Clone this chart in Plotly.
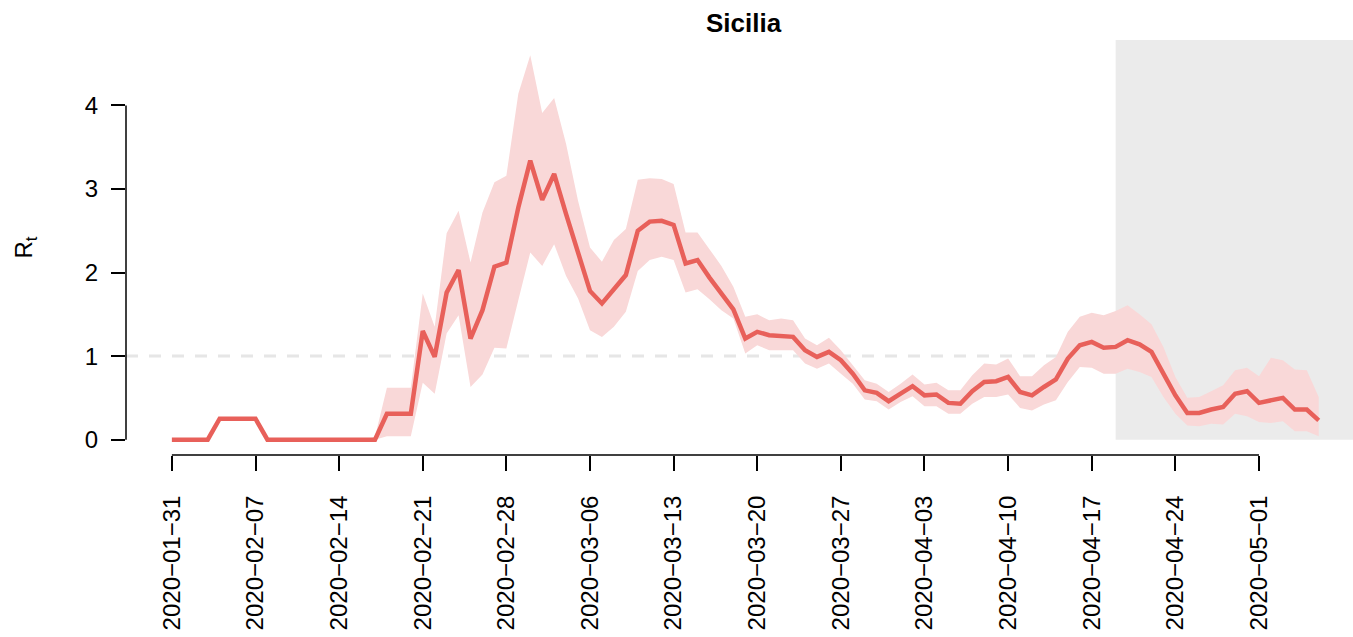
import datetime as dt
import plotly.graph_objects as go

# ---------------- data ----------------
start_date = dt.date(2020, 1, 31)
rt_mean = [0, 0, 0, 0, 0.25, 0.25, 0.25, 0.25, 0, 0, 0, 0, 0, 0, 0, 0, 0, 0, 0.31, 0.31, 0.31,
           1.30, 0.99, 1.76, 2.03, 1.21, 1.55, 2.07, 2.12, 2.78, 3.34, 2.87, 3.18, 2.70, 2.24, 1.78,
           1.63, 1.80, 1.97, 2.50, 2.61, 2.62, 2.57, 2.11, 2.15, 1.94, 1.76, 1.56, 1.21, 1.29, 1.25,
           1.24, 1.23, 1.07, 0.99, 1.05, 0.95, 0.79, 0.59, 0.56, 0.46, 0.55, 0.64, 0.53, 0.54, 0.44,
           0.43, 0.58, 0.69, 0.70, 0.75, 0.57, 0.53, 0.63, 0.72, 0.97, 1.13, 1.17, 1.10, 1.11, 1.19,
           1.14, 1.05, 0.79, 0.53, 0.32, 0.32, 0.36, 0.39, 0.55, 0.58, 0.44, 0.47, 0.50, 0.36, 0.36,
           0.23]
rt_upper = [0, 0, 0, 0, 0.25, 0.25, 0.25, 0.25, 0, 0, 0, 0, 0, 0, 0, 0, 0, 0.03, 0.62, 0.62, 0.62,
            1.75, 1.35, 2.47, 2.74, 2.12, 2.72, 3.08, 3.16, 4.14, 4.60, 3.91, 4.09, 3.54, 2.86, 2.30,
            2.13, 2.39, 2.52, 3.11, 3.13, 3.12, 3.06, 2.48, 2.48, 2.28, 2.08, 1.83, 1.47, 1.50, 1.43,
            1.45, 1.43, 1.21, 1.13, 1.22, 1.07, 0.89, 0.71, 0.67, 0.57, 0.67, 0.78, 0.66, 0.68, 0.59,
            0.59, 0.77, 0.91, 0.90, 0.97, 0.76, 0.76, 0.89, 0.99, 1.29, 1.47, 1.52, 1.49, 1.54, 1.61,
            1.50, 1.38, 1.11, 0.75, 0.50, 0.51, 0.58, 0.65, 0.83, 0.86, 0.76, 0.98, 0.95, 0.84, 0.83,
            0.51]
rt_lower = [0, 0, 0, 0, 0.25, 0.25, 0.25, 0.25, 0, 0, 0, 0, 0, 0, 0, 0, 0, 0, 0.04, 0.04, 0.04,
            0.68, 0.55, 1.27, 1.49, 0.63, 0.78, 1.10, 1.09, 1.67, 2.24, 2.08, 2.34, 1.96, 1.69, 1.31,
            1.23, 1.35, 1.53, 2.02, 2.15, 2.19, 2.15, 1.76, 1.80, 1.68, 1.55, 1.45, 1.03, 1.13, 1.07,
            1.07, 1.07, 0.91, 0.85, 0.91, 0.79, 0.67, 0.48, 0.46, 0.36, 0.45, 0.52, 0.40, 0.40, 0.31,
            0.31, 0.43, 0.51, 0.51, 0.54, 0.38, 0.35, 0.42, 0.47, 0.69, 0.87, 0.86, 0.79, 0.79, 0.85,
            0.81, 0.75, 0.51, 0.31, 0.17, 0.16, 0.19, 0.18, 0.31, 0.28, 0.21, 0.20, 0.22, 0.10, 0.10,
            0.04]
dates = [start_date + dt.timedelta(days=i) for i in range(len(rt_mean))]

tick_dates = ["2020-01-31", "2020-02-07", "2020-02-14", "2020-02-21", "2020-02-28", "2020-03-06",
              "2020-03-13", "2020-03-20", "2020-03-27", "2020-04-03", "2020-04-10", "2020-04-17",
              "2020-04-24", "2020-05-01"]
tick_labels = [d.replace("-", "\u2212") for d in tick_dates]
y_ticks = [0, 1, 2, 3, 4]
forecast_start = "2020-04-19"
title_text = "Sicilia"

# ---------------- styling ----------------
LINE = "#E8605A"
BAND = "#F9D8D8"
GREY = "#EBEBEB"
FONT = "Liberation Sans"
TICK_SIZE = 24

# R-style ranges (4% padding)
n = len(dates) - 1
pad_x = 0.04 * n
x0 = dt.datetime.combine(start_date, dt.time()) - dt.timedelta(days=pad_x)
x1 = dt.datetime.combine(dates[-1], dt.time()) + dt.timedelta(days=2.87)
ymax_data = max(rt_upper)
y_range = [-0.04 * ymax_data, ymax_data * 1.04]

fig = go.Figure()

# band
fig.add_trace(go.Scatter(
    x=dates + dates[::-1], y=rt_upper + rt_lower[::-1],
    fill="toself", fillcolor=BAND, line=dict(width=0), mode="lines",
    hoverinfo="skip", showlegend=False))

# mean line
fig.add_trace(go.Scatter(
    x=dates, y=rt_mean, mode="lines",
    line=dict(color=LINE, width=4.5), showlegend=False))

shapes = [
    # reference line at Rt = 1
    dict(type="line", xref="paper", x0=0, x1=1, yref="y", y0=1, y1=1,
         line=dict(color="#E6E6E6", width=3, dash="12px,11px"), layer="below"),
    # forecast shaded region
    dict(type="rect", xref="x", x0=forecast_start, x1=x1 + dt.timedelta(days=5),
         yref="y", y0=0, y1=y_range[1], fillcolor=GREY, line=dict(width=0), layer="below"),
    # y axis line (R style: only over tick range)
    dict(type="line", xref="paper", x0=0, x1=0, yref="y", y0=y_ticks[0], y1=y_ticks[-1],
         line=dict(color="black", width=1.5)),
    # x axis line
    dict(type="line", xref="x", x0=tick_dates[0], x1=tick_dates[-1], yref="paper", y0=0, y1=0,
         line=dict(color="black", width=1.5)),
]

fig.update_layout(
    width=1353, height=637,
    margin=dict(l=126, r=0, t=40, b=182),
    paper_bgcolor="white", plot_bgcolor="white",
    font=dict(family=FONT, color="black", size=TICK_SIZE),
    shapes=shapes,
    showlegend=False,
    annotations=[
        dict(text="<b>%s</b>" % title_text, xref="paper", yref="paper",
             x=(744 - 126) / 1227, y=1, yanchor="bottom", yshift=0, showarrow=False,
             font=dict(size=26, family=FONT)),
        dict(text="R<sub>t</sub>", xref="paper", yref="paper", x=-(126 - 25) / 1227, y=0.5,
             textangle=-90, showarrow=False, font=dict(size=TICK_SIZE, family=FONT),
             xanchor="center", yanchor="middle"),
    ],
)

fig.update_xaxes(
    type="date", range=[x0, x1], showgrid=False, zeroline=False, showline=False,
    tickvals=tick_dates, ticktext=tick_labels, tickangle=-90,
    ticks="outside", ticklen=15, tickwidth=1.5, tickcolor="black",
    ticklabelstandoff=15, tickfont=dict(size=TICK_SIZE))
fig.update_yaxes(
    range=y_range, showgrid=False, zeroline=False, showline=False,
    tickvals=y_ticks, ticktext=[str(v) for v in y_ticks],
    ticks="outside", ticklen=14, tickwidth=1.5, tickcolor="black",
    ticklabelstandoff=8, tickfont=dict(size=TICK_SIZE))

fig.write_html("out.html", config={"displayModeBar": False},
               post_script="document.body.style.margin='0';document.body.style.padding='0';")
